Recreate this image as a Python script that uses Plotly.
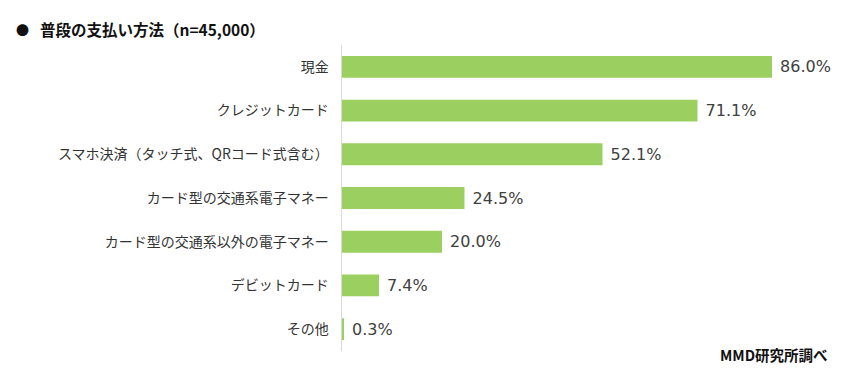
import plotly.graph_objects as go

categories = ["現金", "クレジットカード", "スマホ決済（タッチ式、QRコード式含む）",
              "カード型の交通系電子マネー", "カード型の交通系以外の電子マネー",
              "デビットカード", "その他"]
values = [86.0, 71.1, 52.1, 24.5, 20.0, 7.4, 0.3]
labels = [f" {v:.1f}%" for v in values]

FONT = "Noto Sans CJK JP"

fig = go.Figure(go.Bar(
    y=categories, x=values, orientation="h",
    marker=dict(color="#9BCF5F", line=dict(width=0)),
    text=labels, textposition="outside", cliponaxis=False,
    constraintext="none",
    textfont=dict(family="DejaVu Sans", size=16, color="#404040"),
    width=0.5,
))

fig.update_layout(
    width=856, height=372,
    margin=dict(l=334, r=22, t=37, b=29),
    paper_bgcolor="white", plot_bgcolor="white",
    showlegend=False,
    font=dict(family=FONT, color="#404040"),
    xaxis=dict(range=[0, 100], visible=False, fixedrange=True),
    yaxis=dict(autorange="reversed", showgrid=False, showline=True,
               linecolor="#D9D9D9", linewidth=1, ticks="", ticklen=0,
               tickfont=dict(family=FONT, size=14, color="#333333"),
               ticksuffix="   ", automargin=False),
    annotations=[
        dict(text="●", xref="paper", yref="paper",
             x=0, y=1, xanchor="center", yanchor="middle", showarrow=False,
             font=dict(family=FONT, size=13, color="#111111"), xshift=-320, yshift=16),
        dict(text="<b>普段の支払い方法（n=45,000）</b>", xref="paper", yref="paper",
             x=0, y=1, xanchor="left", yanchor="middle", showarrow=False,
             font=dict(family=FONT, size=15.5, color="#111111"), xshift=-304, yshift=16),
        dict(text="<b>MMD研究所調べ</b>", xref="paper", yref="paper",
             x=1, y=0, xanchor="right", yanchor="middle", showarrow=False,
             font=dict(family=FONT, size=14.5, color="#111111"), yshift=-3, xshift=-12),
    ],
)

fig.write_html("out.html")
